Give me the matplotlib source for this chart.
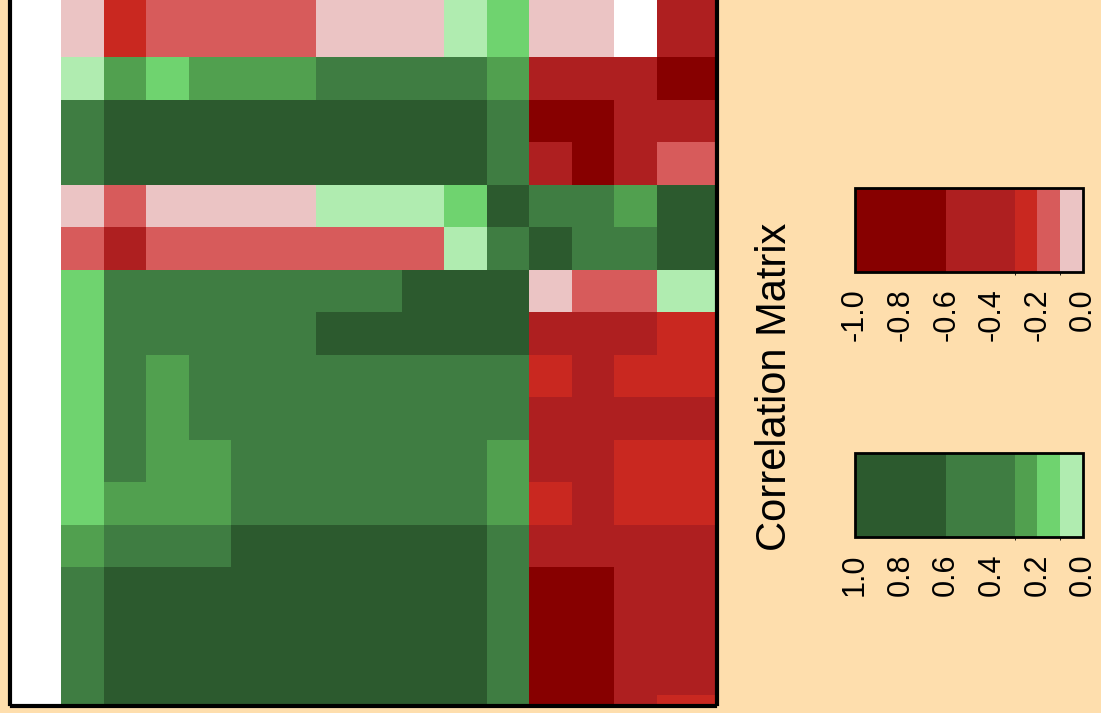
import numpy as np
import matplotlib.pyplot as plt
from matplotlib.colors import ListedColormap, BoundaryNorm
import matplotlib.cm as cm

plt.rcParams['font.family'] = ['Liberation Sans', 'DejaVu Sans']
plt.rcParams['axes.unicode_minus'] = False

#######################
# CORRELATION VALUES  #
#######################
# rows listed top to bottom, columns left to right (nan = blank cell)
row_top = [-0.05, -0.25, -0.15, -0.15, -0.15, -0.15, -0.05, -0.05, -0.05, 0.05, 0.15, -0.05, -0.05, np.nan, -0.45]
row_01 = [0.05, 0.25, 0.15, 0.25, 0.25, 0.25, 0.45, 0.45, 0.45, 0.45, 0.25, -0.45, -0.45, -0.45, -0.8]
row_02 = [0.45, 0.8, 0.8, 0.8, 0.8, 0.8, 0.8, 0.8, 0.8, 0.8, 0.45, -0.8, -0.8, -0.45, -0.45]
row_03 = [0.45, 0.8, 0.8, 0.8, 0.8, 0.8, 0.8, 0.8, 0.8, 0.8, 0.45, -0.45, -0.8, -0.45, -0.15]
row_04 = [-0.05, -0.15, -0.05, -0.05, -0.05, -0.05, 0.05, 0.05, 0.05, 0.15, 0.8, 0.45, 0.45, 0.25, 0.8]
row_05 = [-0.15, -0.45, -0.15, -0.15, -0.15, -0.15, -0.15, -0.15, -0.15, 0.05, 0.45, 0.8, 0.45, 0.45, 0.8]
row_06 = [0.15, 0.45, 0.45, 0.45, 0.45, 0.45, 0.45, 0.45, 0.8, 0.8, 0.8, -0.05, -0.15, -0.15, 0.05]
row_07 = [0.15, 0.45, 0.45, 0.45, 0.45, 0.45, 0.8, 0.8, 0.8, 0.8, 0.8, -0.45, -0.45, -0.45, -0.25]
row_08 = [0.15, 0.45, 0.25, 0.45, 0.45, 0.45, 0.45, 0.45, 0.45, 0.45, 0.45, -0.25, -0.45, -0.25, -0.25]
row_09 = [0.15, 0.45, 0.25, 0.45, 0.45, 0.45, 0.45, 0.45, 0.45, 0.45, 0.45, -0.45, -0.45, -0.45, -0.45]
row_10 = [0.15, 0.45, 0.25, 0.25, 0.45, 0.45, 0.45, 0.45, 0.45, 0.45, 0.25, -0.45, -0.45, -0.25, -0.25]
row_11 = [0.15, 0.25, 0.25, 0.25, 0.45, 0.45, 0.45, 0.45, 0.45, 0.45, 0.25, -0.25, -0.45, -0.25, -0.25]
row_12 = [0.25, 0.45, 0.45, 0.45, 0.8, 0.8, 0.8, 0.8, 0.8, 0.8, 0.45, -0.45, -0.45, -0.45, -0.45]
row_13 = [0.45, 0.8, 0.8, 0.8, 0.8, 0.8, 0.8, 0.8, 0.8, 0.8, 0.45, -0.8, -0.8, -0.45, -0.45]
row_14 = [0.45, 0.8, 0.8, 0.8, 0.8, 0.8, 0.8, 0.8, 0.8, 0.8, 0.45, -0.8, -0.8, -0.45, -0.45]
row_15 = [0.45, 0.8, 0.8, 0.8, 0.8, 0.8, 0.8, 0.8, 0.8, 0.8, 0.45, -0.8, -0.8, -0.45, -0.45]
row_bot = [0.45, 0.8, 0.8, 0.8, 0.8, 0.8, 0.8, 0.8, 0.8, 0.8, 0.45, -0.8, -0.8, -0.45, -0.25]

corr = np.array([row_top, row_01, row_02, row_03, row_04, row_05, row_06, row_07,
                 row_08, row_09, row_10, row_11, row_12, row_13, row_14, row_15, row_bot])

# colour classes
neg_bounds = [-1.0, -0.6, -0.3, -0.2, -0.1, 0.0]
pos_bounds = [0.0, 0.1, 0.2, 0.3, 0.6, 1.0]
neg_colors = ['#870000', '#ae1f20', '#c92820', '#d75b5b', '#ebc4c4']
pos_colors = ['#b0ecb0', '#6fd36f', '#51a04f', '#3f7d42', '#2c5a2e']
bar_ticks_neg = [-1.0, -0.8, -0.6, -0.4, -0.2, 0.0]
bar_ticks_pos = [1.0, 0.8, 0.6, 0.4, 0.2, 0.0]

cmap = ListedColormap(neg_colors + pos_colors)
norm = BoundaryNorm(neg_bounds + pos_bounds[1:], cmap.N)

bg = '#fedead'
fig = plt.figure(figsize=(11.01, 7.13), dpi=100, facecolor=bg)

#############
# HEATMAP   #
#############
ax = fig.add_axes([12/1101, 1 - 704/713, 703/1101, 704/713])
ax.set_facecolor('white')
x_edges = np.r_[np.arange(15), 16]
y_edges = np.r_[-2, np.arange(16), 17]
ax.pcolormesh(x_edges, y_edges, np.ma.masked_invalid(corr), cmap=cmap, norm=norm)
ax.set_xlim(-1.151, 15.363)
ax.set_ylim(15.213, -1.340)
ax.set_xticks([])
ax.set_yticks([])
ax.spines['top'].set_visible(False)
for s in ['left', 'right', 'bottom']:
    ax.spines[s].set_linewidth(3)
    ax.spines[s].set_color('black')
    ax.spines[s].set_position(('outward', 1.5))

##############
# COLORBARS  #
##############
def make_bar(bottom, bounds, colors, ticks, flip):
    cax = fig.add_axes([855/1101, bottom, 228/1101, 84/713])
    sm = cm.ScalarMappable(norm=BoundaryNorm(bounds, len(colors)), cmap=ListedColormap(colors))
    cb = fig.colorbar(sm, cax=cax, orientation='horizontal', spacing='proportional',
                      boundaries=bounds, ticks=ticks)
    if flip:
        cax.invert_xaxis()
    cb.outline.set_linewidth(2)
    cb.outline.set_edgecolor('black')
    cax.tick_params(length=0, pad=12, labelsize=22)
    cax.set_xticks(ticks)
    cax.set_xticklabels(['%.1f' % t for t in ticks], rotation=90)
    return cb

make_bar(1 - 272/713, neg_bounds, neg_colors, bar_ticks_neg, False)
make_bar(1 - 537/713, pos_bounds, pos_colors, bar_ticks_pos, True)

fig.text(775/1101, 1 - 387/713, 'Correlation Matrix', rotation=90,
         ha='center', va='center', fontsize=30)

fig.savefig('out.png', dpi=100, facecolor=bg)
